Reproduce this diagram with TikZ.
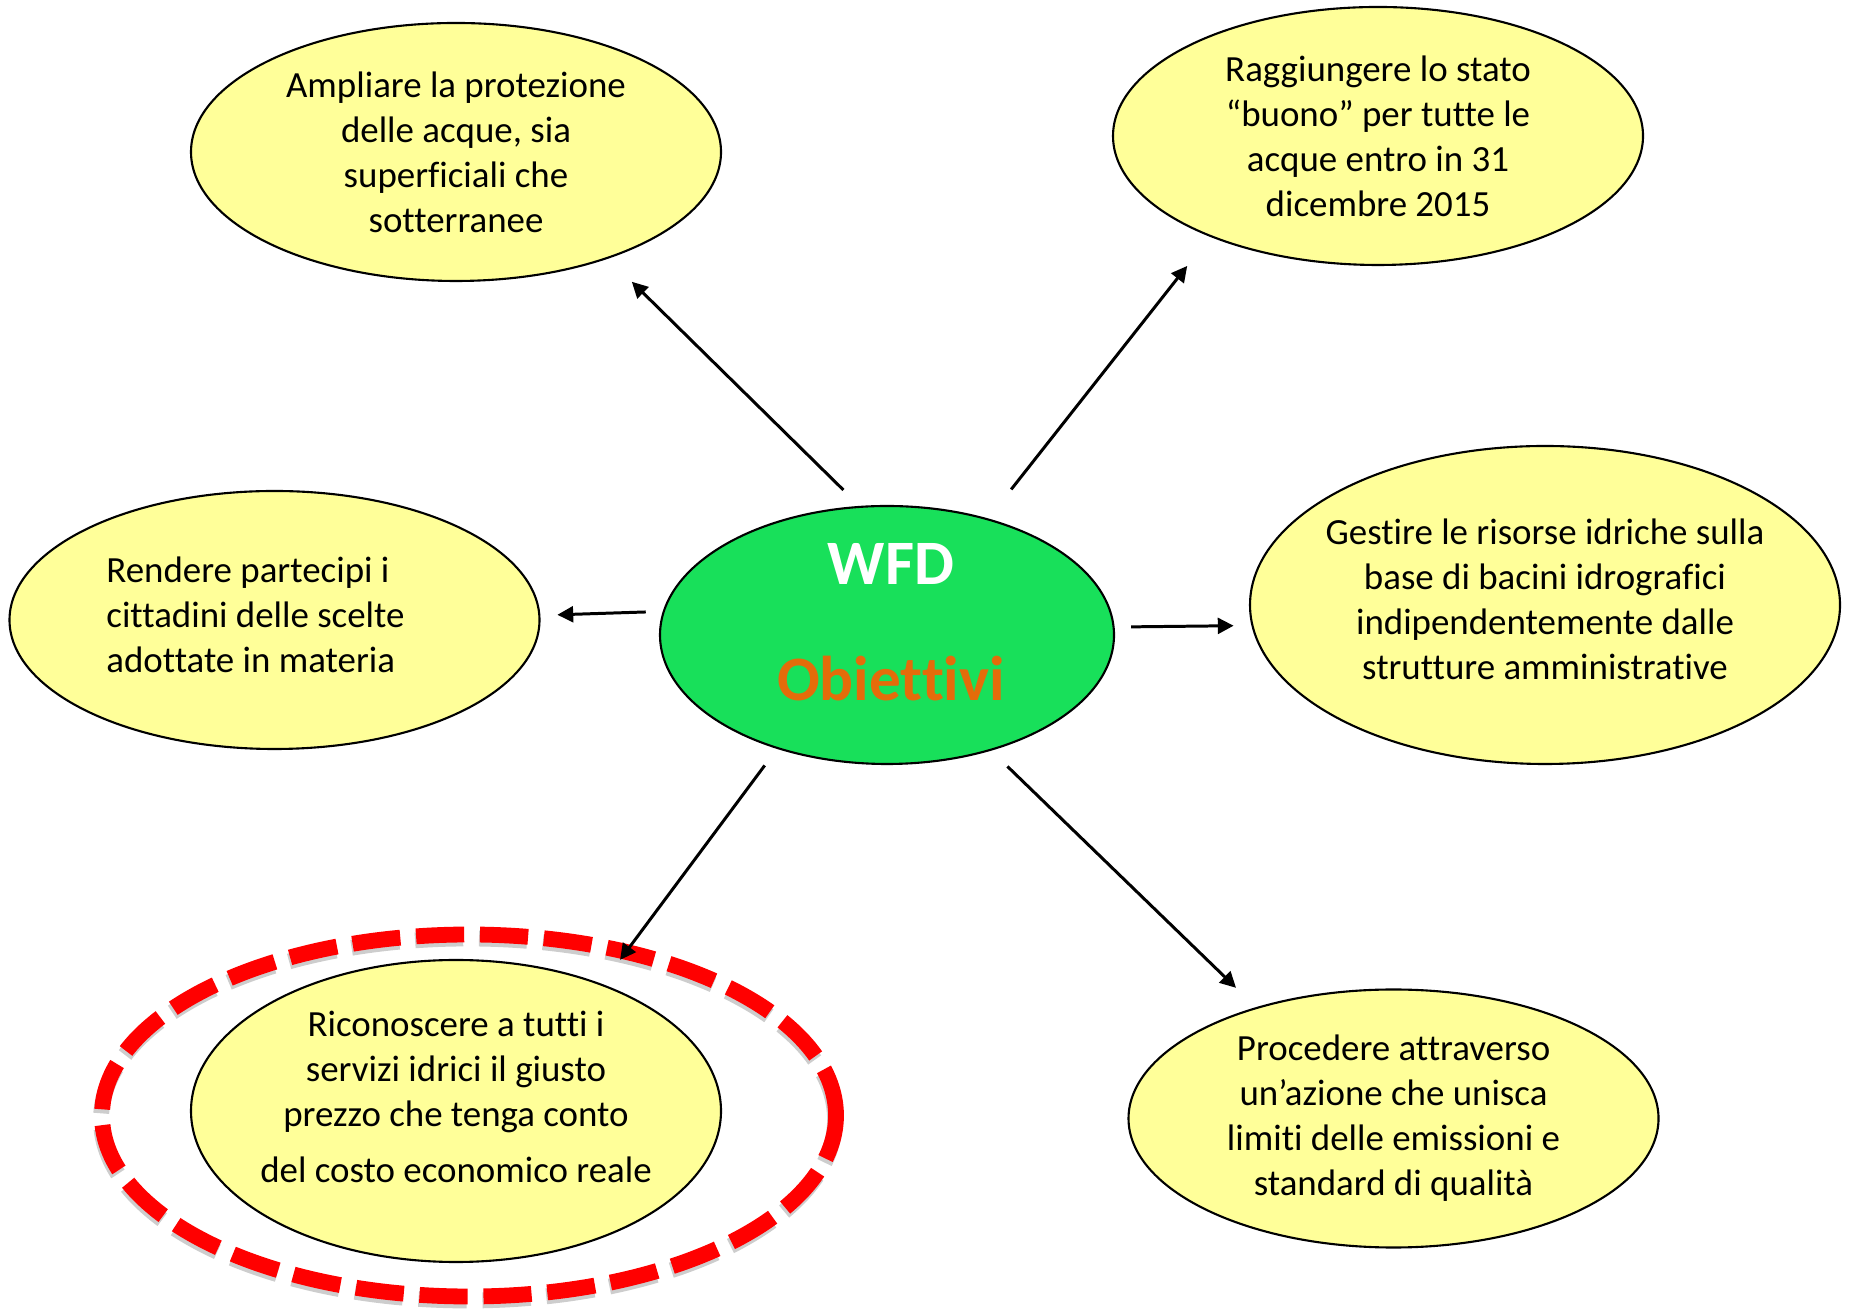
\documentclass[tikz,border=0pt]{standalone}
\usepackage{fontspec}
\setmainfont[Ligatures={NoCommon,NoRequired,NoContextual},Contextuals=NoAlternate]{Carlito}
\usetikzlibrary{shapes.geometric,arrows.meta}
\definecolor{giallino}{RGB}{255,255,153}
\definecolor{verde}{RGB}{24,224,90}
\definecolor{arancio}{RGB}{228,108,10}
\definecolor{rosso}{RGB}{255,0,0}
\definecolor{ombra}{RGB}{205,205,205}
\tikzset{
  obiettivo/.style={ellipse,draw=black,line width=0.6pt,fill=giallino,inner sep=-0.6cm,
    minimum width=5.3cm,minimum height=2.58cm,align=center,
    font=\fontsize{10.5}{12.8}\selectfont},
  titolo/.style={font=\bfseries\fontsize{18}{22}\selectfont,inner sep=0pt},
  freccia/.style={line width=0.85pt,-{Triangle[length=4.5pt,width=4.5pt]}},
  tratteggio/.style={line width=4.5pt,dash pattern=on 13.7pt off 4.5pt},
}
\begin{document}
\begin{tikzpicture}
\useasboundingbox (0,0) rectangle (18.51,13.08);
% centro
\node[ellipse,draw=black,line width=0.6pt,fill=verde,inner sep=0pt,
  minimum width=4.54cm,minimum height=2.58cm] (wfd) at (8.87,6.73) {};
\node[titolo,text=white] (sigla) at (8.91,7.44) {WFD};
\node[titolo,text=arancio] (obj) at (8.91,6.29) {Obiettivi};
% obiettivi
\node[obiettivo] (tl) at (4.56,11.56) {Ampliare la protezione\\delle acque, sia\\superficiali che\\sotterranee};
\node[obiettivo] (tr) at (13.78,11.72) {Raggiungere lo stato\\“buono” per tutte le\\acque entro in 31\\dicembre 2015};
\node[obiettivo,align=left,text depth=0.1cm] (lft) at (2.745,6.88) {Rendere partecipi i\\cittadini delle scelte\rule{0.38cm}{0pt}\\adottate in materia};
\node[obiettivo,minimum width=5.9cm,minimum height=3.18cm,text depth=0.12cm] (rgt) at (15.45,7.03) {Gestire le risorse idriche sulla\\base di bacini idrografici\\indipendentemente dalle\\strutture amministrative};
\node[obiettivo,minimum height=3.02cm,text depth=0.28cm] (bl) at (4.56,1.97) {Riconoscere a tutti i\\servizi idrici il giusto\\prezzo che tenga conto\\[3pt]del costo economico reale};
\node[obiettivo] (br) at (13.935,1.895) {Procedere attraverso\\un’azione che unisca\\limiti delle emissioni e\\standard di qualità};
% evidenziato
\draw[tratteggio,ombra] (4.68,1.885) ellipse [x radius=3.67cm,y radius=1.81cm];
\draw[tratteggio,rosso] (4.69,1.925) ellipse [x radius=3.67cm,y radius=1.81cm];
% frecce
\draw[freccia,shorten <=0.227cm,shorten >=0.33cm] (wfd.102.8) -- (tl.325.6);
\draw[freccia,shorten <=0.37cm,shorten >=0.37cm] (wfd.49.65) -- (tr.211.6);
\draw[freccia,shorten <=0.17cm,shorten >=0.17cm] (wfd.174.4) -- (lft.1.5);
\draw[freccia,shorten <=0.164cm,shorten >=0.178cm] (wfd.2) -- (rgt.184.3);
\draw[freccia,shorten <=0.206cm,shorten >=0.30cm] (wfd.226.6) -- (bl.41.7);
\draw[freccia,shorten <=0.226cm,shorten >=0.278cm] (wfd.312.9) -- (br.141.6);
\end{tikzpicture}
\end{document}
